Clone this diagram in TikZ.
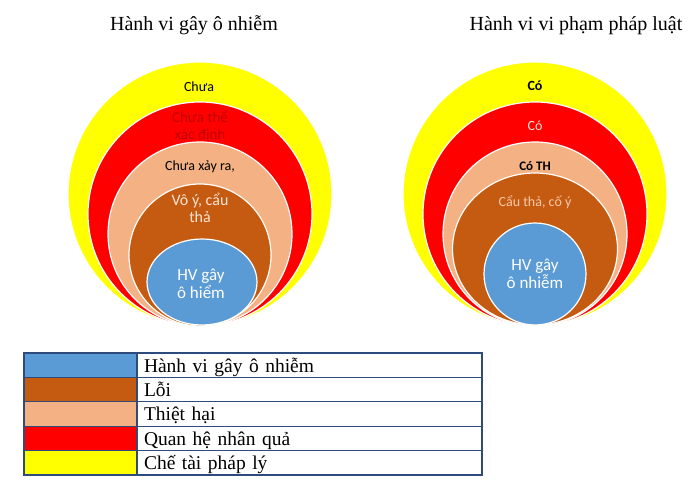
\documentclass[tikz,border=0pt]{standalone}
\usepackage{fontspec}
\setmainfont{Liberation Serif}
\newfontfamily\cali{Carlito}
\usepackage{xcolor}
\usetikzlibrary{positioning,shapes}

\definecolor{hvblue}{HTML}{5B9BD5}
\definecolor{loibrown}{HTML}{C55A11}
\definecolor{thpeach}{HTML}{F4B183}
\definecolor{qhred}{HTML}{FF0000}
\definecolor{ctyellow}{HTML}{FFFF00}
\definecolor{tblnavy}{HTML}{2F4B7C}
\definecolor{darkred}{HTML}{C00000}
\definecolor{lightpeach}{HTML}{FBE5D6}
\definecolor{softpeach}{HTML}{F8CBAD}

\begin{document}
\begin{tikzpicture}[
            x=1pt, y=-1pt,
            ring/.style={circle, draw=white, line width=1.2pt, inner sep=0pt},
            oval/.style={ellipse, draw=white, line width=1.2pt, inner sep=0pt},
            lbl/.style={font=\cali\fontsize{14}{17}\selectfont, align=center, inner sep=0pt},
            big/.style={font=\cali\fontsize{17}{18}\selectfont, align=center, inner sep=0pt, text=white},
            heading/.style={font=\fontsize{20}{24}\selectfont, inner sep=0pt, anchor=base},
            swatch/.style={draw=tblnavy, line width=1.2pt, outer sep=0pt, minimum width=113pt, minimum height=24.4pt, inner sep=0pt},
            entry/.style={draw=tblnavy, line width=1.2pt, outer sep=0pt, minimum height=24.4pt, inner xsep=7pt, inner ysep=0pt,
                text height=19pt, text depth=5.4pt, text width=331pt, align=left, font=\fontsize{19.5}{22}\selectfont}
        ]
            \useasboundingbox (0,0) rectangle (700,486);

            % Titles
            \node[heading] (tL) at (194,31) {Hành vi gây ô nhiễm};
            \node[heading] (tR) at (576,31) {Hành vi vi phạm pháp luật};

            % Left rings
            \node[ring, fill=ctyellow, minimum size=264pt] (yL) at (200,194) {};
            \node[ring, fill=qhred, minimum size=224pt] (rL) at (200,214) {};
            \node[ring, fill=thpeach, minimum size=184pt] (pL) at (200,234) {};
            \node[ring, fill=loibrown, minimum size=142pt] (bL) at (200,255) {};
            \node[oval, fill=hvblue, minimum width=110pt, minimum height=86pt] (hL) at (202,282) {};
            % Left labels
            \node[lbl] (aL1) at (199,87) {Chưa};
            \node[lbl, text=darkred, font=\cali\fontsize{15}{17}\selectfont] (aL2) at (200,126) {Chưa thể\\xác định};
            \node[lbl] (aL3) at (200,167) {Chưa xảy ra,};
            \node[lbl, text=lightpeach, font=\cali\fontsize{16}{17}\selectfont] (aL4) at (200,208) {Vô ý, cẩu\\thả};
            \node[big] (aL5) at (201,284) {HV gây\\ô hiểm};

            % Right rings
            \node[ring, fill=ctyellow, minimum size=264pt] (yR) at (535,194) {};
            \node[ring, fill=qhred, minimum size=224pt] (rR) at (535,214) {};
            \node[ring, fill=thpeach, minimum size=184pt] (pR) at (535,234) {};
            \node[oval, fill=loibrown, minimum width=165pt, minimum height=152pt] (bR) at (535,249) {};
            \node[ring, fill=hvblue, minimum size=102pt] (hR) at (535,274) {};
            % Right labels
            \node[lbl, font=\cali\bfseries\fontsize{14}{17}\selectfont] (aR1) at (535,86) {Có};
            \node[lbl, text=lightpeach] (aR2) at (535,126) {Có};
            \node[lbl, font=\cali\bfseries\fontsize{13}{17}\selectfont] (aR3) at (535,166) {Có TH};
            \node[lbl, text=softpeach] (aR4) at (535,202) {Cẩu thả, cố ý};
            \node[big] (aR5) at (535,274) {HV gây\\ô nhiễm};

            % Legend
            \node[swatch, fill=hvblue, anchor=north west] (s1) at (24,353) {};
            \node[entry, right=0pt of s1] (e1) {Hành vi gây ô nhiễm};
            \node[swatch, fill=loibrown, below=0pt of s1] (s2) {};
            \node[entry, right=0pt of s2] (e2) {Lỗi};
            \node[swatch, fill=thpeach, below=0pt of s2] (s3) {};
            \node[entry, right=0pt of s3] (e3) {Thiệt hại};
            \node[swatch, fill=qhred, below=0pt of s3] (s4) {};
            \node[entry, right=0pt of s4] (e4) {Quan hệ nhân quả};
            \node[swatch, fill=ctyellow, below=0pt of s4] (s5) {};
            \node[entry, right=0pt of s5] (e5) {Chế tài pháp lý};
        \end{tikzpicture}
\end{document}
